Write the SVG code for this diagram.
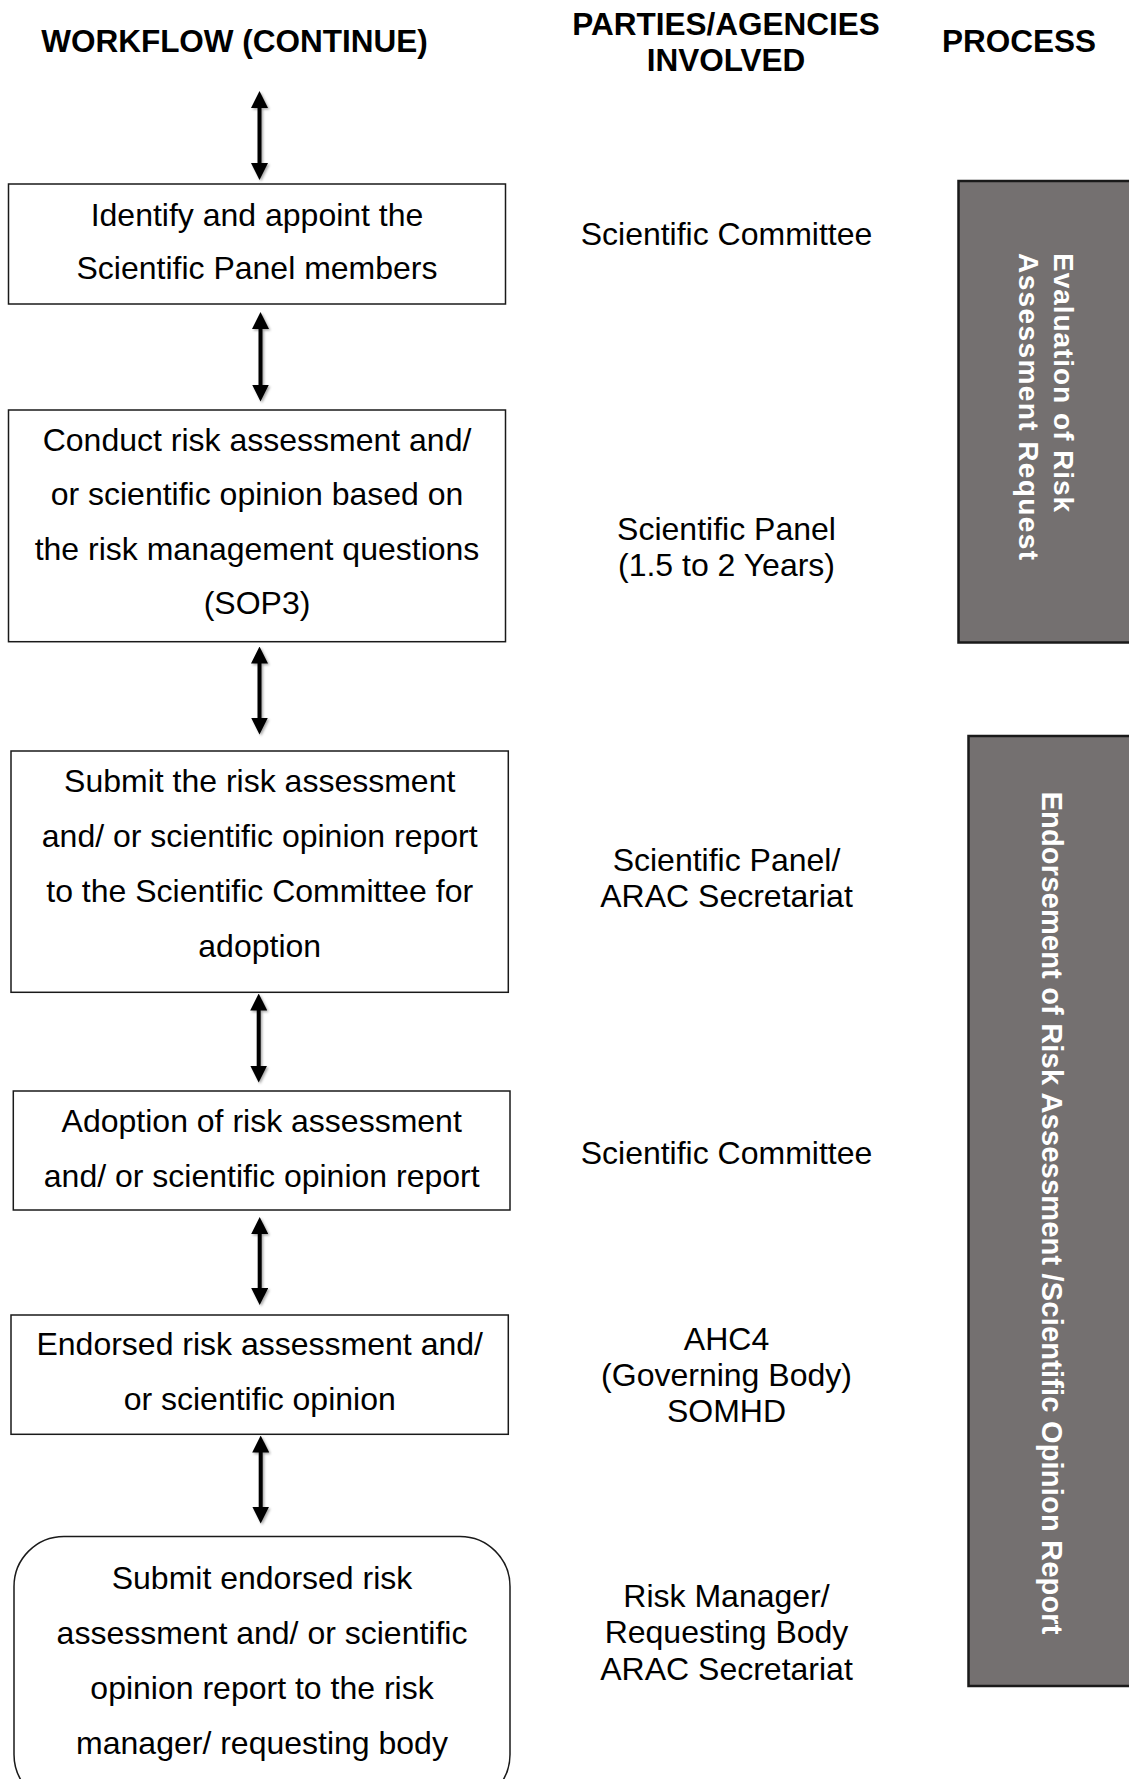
<svg xmlns="http://www.w3.org/2000/svg" width="1129" height="1779" viewBox="0 0 1129 1779">
<defs>
<style>
.hdr{font-family:"Liberation Sans",Arial,sans-serif;font-weight:bold;font-size:31.5px;fill:#000;text-anchor:middle}
.txt{font-family:"Liberation Sans",Arial,sans-serif;font-size:32px;fill:#000;text-anchor:middle}
.box{fill:#fff;stroke:#1a1a1a;stroke-width:1.5}
.panel{fill:#747070;stroke:#1a1a1a;stroke-width:2.5}
.ptxt{font-family:"Liberation Sans",Arial,sans-serif;font-weight:bold;fill:#fff}
.conn{stroke:#000;stroke-width:4;fill:none;marker-start:url(#ah);marker-end:url(#ah)}
</style>
<marker id="ah" markerUnits="userSpaceOnUse" markerWidth="17" markerHeight="17" viewBox="0 0 17 17" refX="9" refY="8.5" orient="auto-start-reverse">
<path d="M0,0 L17,8.5 L0,17 z" fill="#000"/>
</marker>
<filter id="sh" filterUnits="userSpaceOnUse" x="0" y="0" width="1129" height="1779">
<feDropShadow dx="1.5" dy="1.5" stdDeviation="1.2" flood-color="#000" flood-opacity="0.35"/>
</filter>
</defs>
<rect width="1129" height="1779" fill="#fff"/>

<g id="headers">
<text class="hdr" x="234.5" y="52">WORKFLOW (CONTINUE)</text>
<text class="hdr" x="726" y="34.5">PARTIES/AGENCIES</text>
<text class="hdr" x="726" y="70.5">INVOLVED</text>
<text class="hdr" x="1019" y="52.3">PROCESS</text>
</g>

<g id="connectors" filter="url(#sh)">
<line class="conn" x1="259.5" y1="99" x2="259.5" y2="172"/>
<line class="conn" x1="260.5" y1="320" x2="260.5" y2="393.5"/>
<line class="conn" x1="259.5" y1="654.5" x2="259.5" y2="726.5"/>
<line class="conn" x1="258.7" y1="1001.5" x2="258.7" y2="1074.5"/>
<line class="conn" x1="259.7" y1="1225" x2="259.7" y2="1297"/>
<line class="conn" x1="260.7" y1="1443.5" x2="260.7" y2="1515.5"/>
</g>

<g id="node1">
<rect class="box" x="8.5" y="184" width="497" height="120"/>
<text class="txt" x="257" y="225.7">Identify and appoint the</text>
<text class="txt" x="257" y="279.3">Scientific Panel members</text>
</g>

<g id="node2">
<rect class="box" x="8.5" y="410" width="497" height="231.7"/>
<text class="txt" x="257" y="451">Conduct risk assessment and/</text>
<text class="txt" x="257" y="505.3">or scientific opinion based on</text>
<text class="txt" x="257" y="559.6">the risk management questions</text>
<text class="txt" x="257" y="613.9">(SOP3)</text>
</g>

<g id="node3">
<rect class="box" x="11" y="751" width="497.3" height="241.3"/>
<text class="txt" x="259.7" y="791.7">Submit the risk assessment</text>
<text class="txt" x="259.7" y="846.7">and/ or scientific opinion report</text>
<text class="txt" x="259.7" y="901.7">to the Scientific Committee for</text>
<text class="txt" x="259.7" y="956.7">adoption</text>
</g>

<g id="node4">
<rect class="box" x="13.3" y="1091" width="496.7" height="119"/>
<text class="txt" x="261.7" y="1132.3">Adoption of risk assessment</text>
<text class="txt" x="261.7" y="1187.3">and/ or scientific opinion report</text>
</g>

<g id="node5">
<rect class="box" x="11" y="1315" width="497.3" height="119.3"/>
<text class="txt" x="259.7" y="1355">Endorsed risk assessment and/</text>
<text class="txt" x="259.7" y="1410">or scientific opinion</text>
</g>

<g id="node6">
<rect class="box" x="14" y="1536.5" width="496" height="268" rx="50" ry="50"/>
<text class="txt" x="262" y="1589.3">Submit endorsed risk</text>
<text class="txt" x="262" y="1644.3">assessment and/ or scientific</text>
<text class="txt" x="262" y="1699.3">opinion report to the risk</text>
<text class="txt" x="262" y="1754.3">manager/ requesting body</text>
</g>

<g id="parties">
<text class="txt" x="726.5" y="245">Scientific Committee</text>
<text class="txt" x="726.5" y="540">Scientific Panel</text>
<text class="txt" x="726.5" y="576.3">(1.5 to 2 Years)</text>
<text class="txt" x="726.5" y="870.5">Scientific Panel/</text>
<text class="txt" x="726.5" y="906.8">ARAC Secretariat</text>
<text class="txt" x="726.5" y="1164">Scientific Committee</text>
<text class="txt" x="726.5" y="1349.5">AHC4</text>
<text class="txt" x="726.5" y="1385.8">(Governing Body)</text>
<text class="txt" x="726.5" y="1422.1">SOMHD</text>
<text class="txt" x="726.5" y="1607">Risk Manager/</text>
<text class="txt" x="726.5" y="1643.3">Requesting Body</text>
<text class="txt" x="726.5" y="1679.6">ARAC Secretariat</text>
</g>

<g id="process1">
<rect class="panel" x="958.5" y="181" width="200" height="461.5"/>
<text class="ptxt" font-size="28" transform="translate(1054,253) rotate(90)" textLength="259" lengthAdjust="spacing">Evaluation of Risk</text>
<text class="ptxt" font-size="28" transform="translate(1019,253) rotate(90)" textLength="307" lengthAdjust="spacing">Assessment Request</text>
</g>

<g id="process2">
<rect class="panel" x="968.5" y="736" width="200" height="950"/>
<text class="ptxt" font-size="29" transform="translate(1042,791.5) rotate(90)" textLength="843" lengthAdjust="spacing">Endorsement of Risk Assessment /Scientific Opinion Report</text>
</g>
</svg>
